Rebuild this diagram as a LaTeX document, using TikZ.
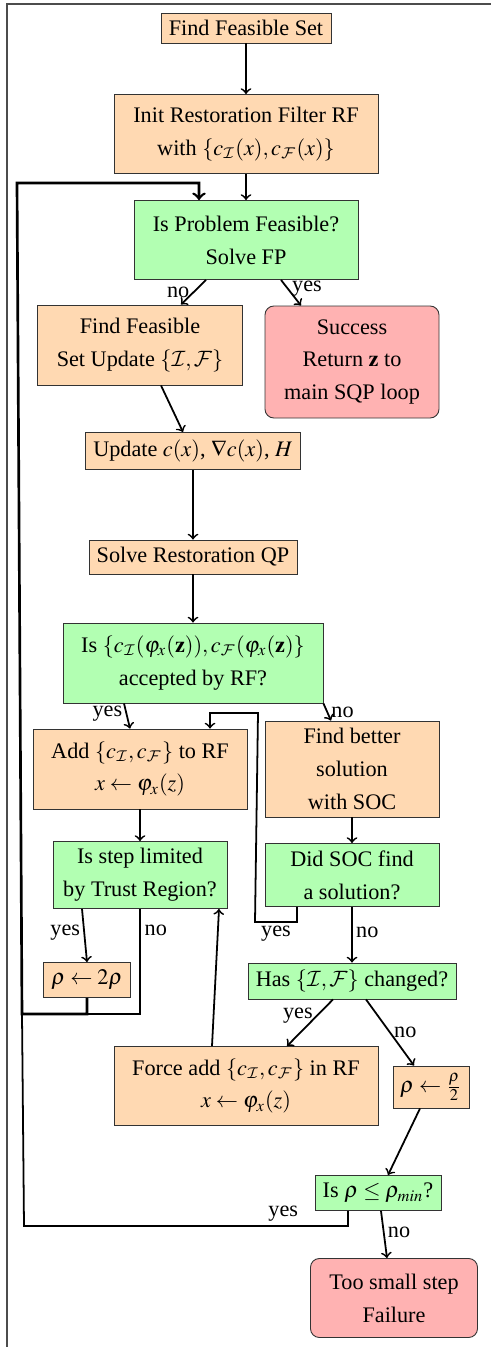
\documentclass[tikz,border=0pt]{standalone}
\usepackage{mathptmx}
\usepackage{amsmath}
\usepackage{amsfonts}
\usepackage{fontspec}
\setmainfont{Liberation Serif}
\DeclareMathAlphabet{\mathcal}{OMS}{cmsy}{m}{n}

\begin{document}
\begin{tikzpicture}[x=0.45pt,y=-0.45pt]
    \tikzstyle{box}=[draw=black!80,align=center,inner sep=2pt,font=\fontsize{10}{14.8}\selectfont]
    \tikzstyle{proc}=[box,fill=orange!30]
    \tikzstyle{test}=[box,fill=green!30]
    \tikzstyle{term}=[box,fill=red!30,rounded corners=4pt]
    \tikzstyle{arr}=[thick,->]
    \tikzstyle{loop}=[very thick,->]
    \tikzstyle{lbl}=[font=\fontsize{10}{12}\selectfont,inner sep=1.5pt]
    \useasboundingbox (0,0) rectangle (491,1347);
    \draw[black!70,line width=0.6pt] (7,1347) -- (7,4) -- (491,4);

    \node[proc,minimum width=76.5pt,minimum height=13.5pt] (start) at (246,28) {Find Feasible Set};
    \node[proc,minimum width=118.8pt,minimum height=35.55pt] (init) at (246,134) {Init Restoration Filter RF\\with $\{c_{\mathcal{I}}(x), c_{\mathcal{F}}(x)\}$};
    \node[test,minimum width=100.8pt,minimum height=35.55pt] (feas) at (246,240) {Is Problem Feasible?\\Solve FP};
    \node[proc,minimum width=92.25pt,minimum height=36pt] (setupd) at (140,345) {Find Feasible\\Set Update $\{\mathcal{I},\mathcal{F}\}$};
    \node[term,minimum width=78.3pt,minimum height=50.4pt] (success) at (352,362) {Success\\Return $\mathbf{z}$ to\\main SQP loop};
    \node[proc,minimum width=96.75pt,minimum height=16.65pt] (update) at (193,451) {Update $c(x)$, $\nabla c(x)$, $H$};
    \node[proc,minimum width=93.6pt,minimum height=15.3pt] (qp) at (193,557) {Solve Restoration QP};
    \node[test,minimum width=117pt,minimum height=36pt] (accept) at (193,663) {Is $\{c_{\mathcal{I}}(\varphi_x(\mathbf{z})), c_{\mathcal{F}}(\varphi_x(\mathbf{z})\}$\\accepted by RF?};
    \node[proc,minimum width=96.3pt,minimum height=36pt] (add) at (140,769) {Add $\{c_{\mathcal{I}}, c_{\mathcal{F}}\}$ to RF\\$x \leftarrow \varphi_x(z)$};
    \node[proc,minimum width=78.3pt,minimum height=43.2pt] (soc) at (352,769) {Find better\\solution\\with SOC};
    \node[test,minimum width=78.3pt,minimum height=30.15pt] (limited) at (140,875) {Is step limited\\by Trust Region?};
    \node[test,minimum width=78.3pt,minimum height=28.35pt] (socfound) at (352,875) {Did SOC find\\a solution?};
    \node[proc,minimum width=39.15pt,minimum height=15.75pt] (double) at (87,980) {$\rho \leftarrow 2\rho$};
    \node[test,minimum width=93.6pt,minimum height=16.2pt] (changed) at (352,981) {Has $\{\mathcal{I},\mathcal{F}\}$ changed?};
    \node[proc,minimum width=118.8pt,minimum height=35.55pt] (force) at (246,1086) {Force add $\{c_{\mathcal{I}}, c_{\mathcal{F}}\}$ in RF\\$x \leftarrow \varphi_x(z)$};
    \node[proc,minimum width=34.2pt,minimum height=18.9pt] (half) at (431,1087) {$\rho \leftarrow \frac{\rho}{2}$};
    \node[test,minimum width=56.7pt,minimum height=15.75pt] (rhomin) at (378,1193) {Is $\rho \leq \rho_{min}$?};
    \node[term,minimum width=75.15pt,minimum height=35.55pt] (fail) at (394,1298) {Too small step\\Failure};

    \draw[arr] (start) -- (init);
    \draw[arr] (init) -- (feas);
    \draw[arr] ([xshift=-18pt]feas.south) -- node[lbl,left] {no} ([xshift=18.45pt]setupd.north);
    \draw[arr] ([xshift=15.75pt]feas.south) -- node[lbl,right,pos=0.35] {yes} ([xshift=-22.95pt]success.north);
    \draw[arr] ([xshift=9.45pt]setupd.south) -- ([xshift=-4.5pt]update.north);
    \draw[arr] (update) -- (qp);
    \draw[arr] (qp) -- (accept);
    \draw[arr] ([xshift=-31.05pt]accept.south) -- node[lbl,left,pos=0.4] {yes} ([xshift=-4.5pt]add.north);
    \draw[arr] (accept.south east) -- node[lbl,right,pos=0.5] {no} ([xshift=-9.45pt]soc.north);
    \draw[arr] (add) -- (limited);
    \draw[arr] (soc) -- (socfound);
    \draw[arr] ([xshift=-26.1pt]limited.south) -- node[lbl,left,pos=0.45] {yes} (double.north);
    \draw[arr] (socfound) -- node[lbl,right,pos=0.45] {no} (changed);
    \draw[arr] ([xshift=-24.75pt]socfound.south) |- (255,922) node[lbl,below,pos=0.75] {yes} -- (258,713) -| ([xshift=31.5pt]add.north);
    \draw[arr] ([xshift=-8.55pt]changed.south) -- node[lbl,left,pos=0.35] {yes} ([xshift=18.45pt]force.north);
    \draw[arr] ([xshift=6.3pt]changed.south) -- node[lbl,right,pos=0.5] {no} ([xshift=-7.65pt]half.north);
    \draw[arr] ([xshift=-15.3pt]force.north) -- ([xshift=35.55pt]limited.south);
    \draw[arr] ([xshift=-4.95pt]half.south) -- ([xshift=4.5pt]rhomin.north);
    \draw[arr] ([xshift=1.35pt]rhomin.south) -- node[lbl,right,pos=0.45] {no} ([xshift=-3.15pt]fail.north);
    \draw[thick] ([xshift=-13.5pt]rhomin.south) |- (24,1226) node[lbl,above,pos=0.6] {yes} -- (22,1014);
    \draw[very thick] (limited.south) -- node[lbl,right,pos=0.2] {no} (140,1014) -- (87,1014);
    \draw[loop] (double.south) |- (22,1014) -- (17,183) -| ([xshift=-21.15pt]feas.north);
\end{tikzpicture}
\end{document}
